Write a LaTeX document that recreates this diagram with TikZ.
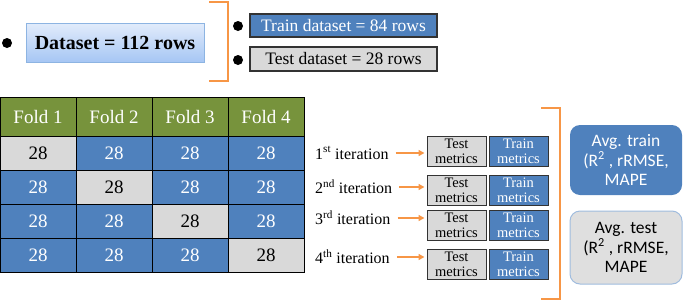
\documentclass[tikz,border=0pt]{standalone}
\usepackage{fontspec}
\setmainfont{Liberation Serif}
\newfontfamily\avgfont{Carlito}
\usepackage{tikz}
\usetikzlibrary{arrows.meta, positioning, calc}
\definecolor{cellblue}{RGB}{79,129,189}
\definecolor{cellgray}{RGB}{217,217,217}
\definecolor{foldgreen}{RGB}{119,147,60}
\definecolor{braceorange}{RGB}{247,150,70}
\definecolor{datatop}{RGB}{226,236,251}
\definecolor{databot}{RGB}{166,198,244}
\definecolor{databorder}{RGB}{141,180,226}
\definecolor{avgborder}{RGB}{160,188,222}

\begin{document}
\begin{tikzpicture}[x=1pt, y=-1pt,
    cell/.style={draw=black, line width=0.8pt, minimum width=76pt, minimum height=34pt, inner sep=0pt, font=\fontsize{19}{22}\selectfont},
    traincell/.style={cell, fill=cellblue, text=white},
    testcell/.style={cell, fill=cellgray, text=black},
    foldcell/.style={cell, minimum height=39pt, fill=foldgreen, text=white},
    metric/.style={draw=black!80, line width=1pt, minimum width=59pt, minimum height=30pt, inner sep=0pt, align=center, font=\fontsize{14.5}{15}\selectfont},
    iter/.style={anchor=west, inner sep=0pt, font=\fontsize{16}{18}\selectfont},
    arr/.style={braceorange, line width=1.5pt, -{Triangle[length=6pt, width=6pt]}, shorten <=7pt, shorten >=2pt},
    bracket/.style={braceorange, line width=1.8pt},
    avg/.style={rounded corners=10pt, minimum width=112pt, align=center, font=\avgfont\fontsize{17.5}{19.5}\selectfont}
]
\useasboundingbox (0,0) rectangle (685,303);

% Whole dataset and its split
\fill (7,43) circle (5pt);
\node[draw=databorder, line width=0.8pt, top color=datatop, bottom color=databot,
      minimum width=178pt, minimum height=39pt, font=\fontsize{20}{22}\selectfont\bfseries] (data) at (115,42.5) {Dataset = 112 rows};
\draw[bracket] (209,2) -- (228,2) -- (228,81) -- (209,81);

\fill (238,26) circle (5pt);
\fill (238,60) circle (5pt);
\node[draw=black!80, line width=1.2pt, fill=cellblue, text=white, minimum width=187pt, minimum height=23pt, inner sep=0pt,
      font=\fontsize{17.5}{20}\selectfont] (trainset) at (343.5,25.5) {Train dataset = 84 rows};
\node[draw=black!80, line width=1.2pt, fill=cellgray, minimum width=187pt, minimum height=24pt, inner sep=0pt,
      font=\fontsize{17.5}{20}\selectfont] (testset) at (343.5,59) {Test dataset = 28 rows};

% Folds
\node[foldcell] (fold1) at (38,116.5) {Fold 1};
\node[foldcell] (fold2) at (114,116.5) {Fold 2};
\node[foldcell] (fold3) at (190,116.5) {Fold 3};
\node[foldcell] (fold4) at (266,116.5) {Fold 4};

\node[testcell]  (c11) at (38,153) {28};
\node[traincell] (c12) at (114,153) {28};
\node[traincell] (c13) at (190,153) {28};
\node[traincell] (c14) at (266,153) {28};

\node[traincell] (c21) at (38,187) {28};
\node[testcell]  (c22) at (114,187) {28};
\node[traincell] (c23) at (190,187) {28};
\node[traincell] (c24) at (266,187) {28};

\node[traincell] (c31) at (38,221) {28};
\node[traincell] (c32) at (114,221) {28};
\node[testcell]  (c33) at (190,221) {28};
\node[traincell] (c34) at (266,221) {28};

\node[traincell] (c41) at (38,255) {28};
\node[traincell] (c42) at (114,255) {28};
\node[traincell] (c43) at (190,255) {28};
\node[testcell]  (c44) at (266,255) {28};

% Iterations and their metrics
\node[iter] (iter1) at (315,153) {1\textsuperscript{st} iteration};
\node[iter] (iter2) at (315,187) {2\textsuperscript{nd} iteration};
\node[iter] (iter3) at (315,218) {3\textsuperscript{rd} iteration};
\node[iter] (iter4) at (315,257) {4\textsuperscript{th} iteration};

\node[metric, fill=cellgray] (test1) at (456.5,151) {Test\\metrics};
\node[metric, fill=cellblue, text=white] (train1) at (518.5,151) {Train\\metrics};
\node[metric, fill=cellgray] (test2) at (456.5,190.5) {Test\\metrics};
\node[metric, fill=cellblue, text=white] (train2) at (518.5,190.5) {Train\\metrics};
\node[metric, fill=cellgray] (test3) at (456.5,225.5) {Test\\metrics};
\node[metric, fill=cellblue, text=white] (train3) at (518.5,225.5) {Train\\metrics};
\node[metric, fill=cellgray] (test4) at (456.5,264.5) {Test\\metrics};
\node[metric, fill=cellblue, text=white] (train4) at (518.5,264.5) {Train\\metrics};

\draw[arr] (iter1.east) -- (iter1.east -| test1.west);
\draw[arr] (iter2.east) -- (iter2.east -| test2.west);
\draw[arr] (iter3.east) -- (iter3.east -| test3.west);
\draw[arr] (iter4.east) -- (iter4.east -| test4.west);

\draw[bracket] (541,108) -- (560,108) -- (560,299) -- (541,299);

% Averages
\node[avg, fill=cellblue, text=white, minimum height=70pt] (avgtrain) at (626,160) {Avg. train\\(R\textsuperscript{2} , rRMSE,\\MAPE};
\node[avg, draw=avgborder, line width=1pt, fill=cellgray!85, minimum height=73pt] (avgtest) at (626,247.5) {Avg. test\\(R\textsuperscript{2} , rRMSE,\\MAPE};
\end{tikzpicture}
\end{document}
